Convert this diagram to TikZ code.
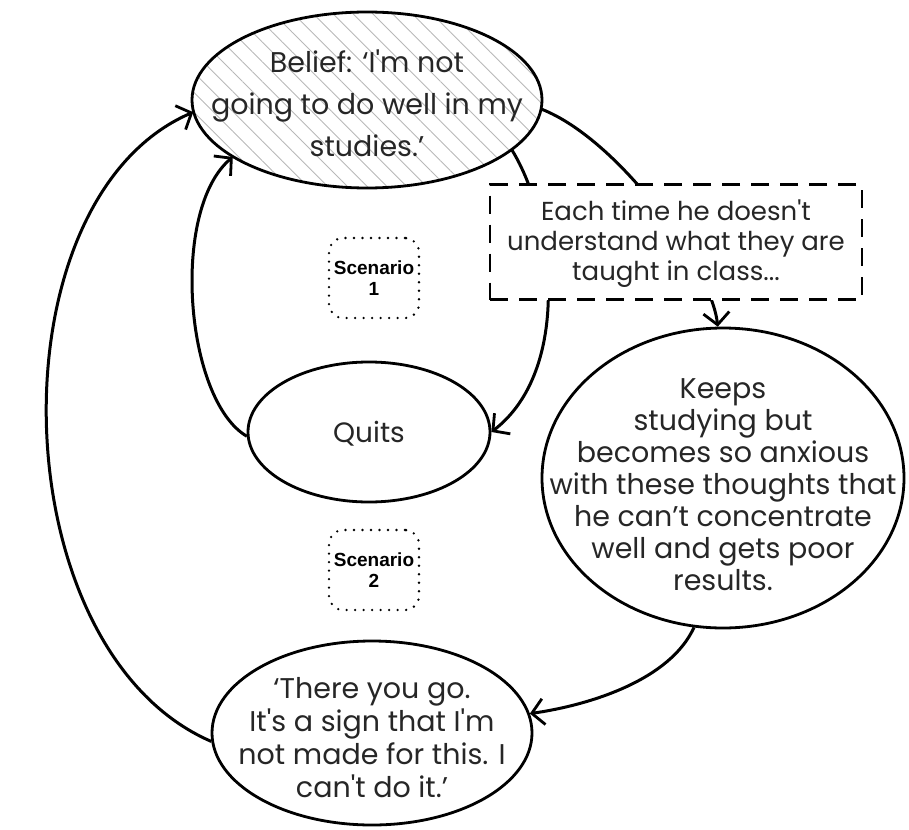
\documentclass[tikz,border=0pt]{standalone}
\usepackage{fontspec}
\setmainfont{Poppins}[Ligatures=TeXOff]
\newfontfamily\scenfont{Liberation Sans}
\usetikzlibrary{shapes.geometric, arrows.meta, patterns.meta}
\pgfdeclarelayer{bg}
\pgfsetlayers{bg,main}
\begin{document}
\begin{tikzpicture}[x=1pt,y=-1pt,
  oval/.style={ellipse, draw, line width=2.8pt, inner sep=0pt, fill=white},
  txt/.style={align=center, inner sep=0pt, text=black!85},
  link/.style={line width=3pt, -{Straight Barb[length=12pt,width=26pt,line width=2.8pt]}},
  scen/.style={draw, rounded corners=14pt, line width=2.6pt, dash pattern=on 0pt off 8.5pt, line cap=round, minimum width=90pt, minimum height=80pt, inner sep=0pt, align=center, font=\scenfont\bfseries\fontsize{19}{21}\selectfont}
]
\useasboundingbox (0,0) rectangle (909,829);

% nodes
\node[oval, fill=none, pattern={Lines[angle=-45,distance=14pt,line width=0.9pt]}, pattern color=black!28, minimum width=350pt, minimum height=176pt] (belief) at (367,100) {};
\node[txt, font=\fontsize{28.5}{42}\selectfont] (belieftxt) at (367,103) {Belief: ‘I'm not\\going to do well in my\\studies.’};

\node[draw, dash pattern=on 18pt off 11pt, line width=2.8pt, fill=white, minimum width=372pt, minimum height=115pt, inner sep=0pt] (cond) at (676,242) {};
\node[txt, font=\fontsize{26}{30}\selectfont] (condtxt) at (676,244) {Each time he doesn't\\understand what they are\\taught in class...};

\node[scen] (sc1) at (374,278) {Scenario\\1};
\node[scen] (sc2) at (374,570) {Scenario\\2};

\node[oval, minimum width=242pt, minimum height=140pt] (quits) at (369,432) {};
\node[txt, font=\fontsize{28}{32}\selectfont] (quitstxt) at (369,434) {Quits};

\node[oval, minimum width=362pt, minimum height=300pt] (keeps) at (723,478) {};
\node[txt, font=\fontsize{28.5}{32}\selectfont] (keepstxt) at (723,485) {Keeps\\studying but\\becomes so anxious\\with these thoughts that\\he can’t concentrate\\well and gets poor\\results.};

\node[oval, minimum width=320pt, minimum height=184pt] (there) at (372,733) {};
\node[txt, font=\fontsize{28.5}{33}\selectfont] (theretxt) at (372,738) {‘There you go.\\It's a sign that I'm\\not made for this. I\\can't do it.’};

% connectors
\begin{pgfonlayer}{bg}
\draw[link] (belief.-3) .. controls (620,140) and (712,270) .. (keeps.92);
\draw[link] (belief.-19) .. controls (555,220) and (572,370) .. (quits.0);
\draw[link] (quits.182) .. controls (185,400) and (170,210) .. (belief.203);
\draw[link] (keeps.259) .. controls (670,680) and (590,705) .. (there.7);
\draw[link] (there.183) .. controls (0,650) and (-10,200) .. (belief.184);
\end{pgfonlayer}
\end{tikzpicture}
\end{document}
